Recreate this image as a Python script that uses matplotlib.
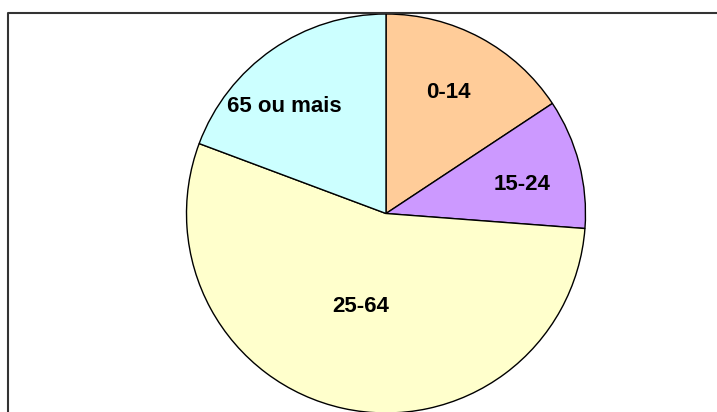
import matplotlib
matplotlib.use("Agg")
import matplotlib.pyplot as plt

# age groups, share of population (%)
groups = ["0-14", "15-24", "25-64", "65 ou mais"]
shares = [15.7, 10.5, 54.5, 19.3]
colors = ["#FFCC99", "#CC99FF", "#FFFFCC", "#CCFFFF"]

# label anchors in pixels from the top-left corner (placed by hand in the original)
label_pos = [(448, 92), (522, 184), (361, 306), (284, 106)]

W, H = 717, 412
fig = plt.figure(figsize=(W / 100, H / 100), dpi=100)
ax = fig.add_axes([0, 0, 1, 1])

ax.pie(
    shares,
    colors=colors,
    startangle=90,
    counterclock=False,
    center=(386, H - 213.5),
    radius=199.5,
    wedgeprops={"edgecolor": "black", "linewidth": 1.0},
    frame=True,
)
ax.set_xlim(0, W)
ax.set_ylim(0, H)
ax.axis("off")

for name, (x, y) in zip(groups, label_pos):
    ax.text(x, H - y, name, ha="center", va="center",
            fontsize=16, fontweight="bold", family="Liberation Sans")

# chart area border (only left and top edges are visible in the crop)
ax.plot([8, 8, W + 5], [-5, H - 12.5, H - 12.5], color="#333333",
        linewidth=1.5, solid_capstyle="projecting", clip_on=False)

fig.savefig("out.png", dpi=100)
